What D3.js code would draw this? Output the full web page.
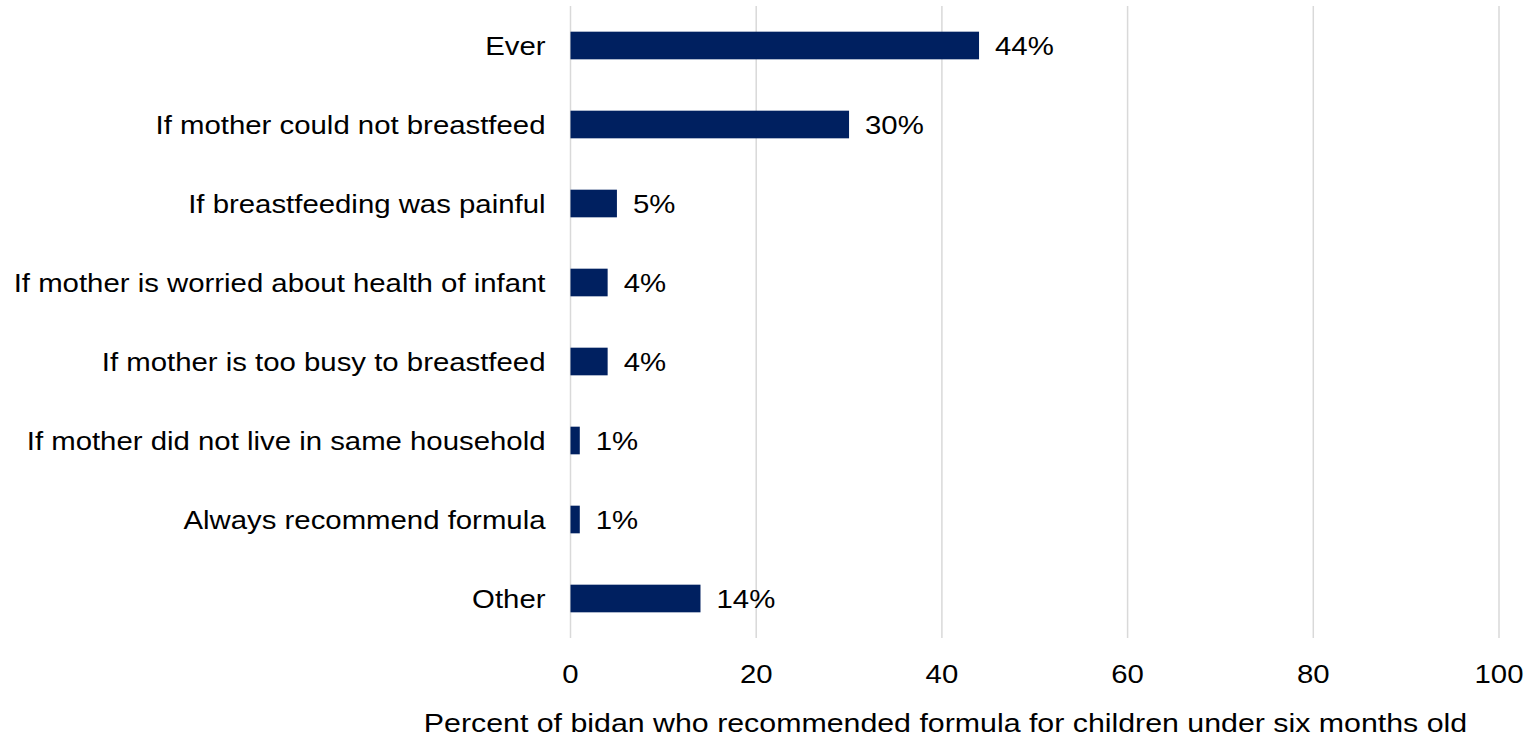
<!DOCTYPE html>
<html>
<head>
<meta charset="utf-8">
<script src="https://cdn.jsdelivr.net/npm/d3@7"></script>
<style>
  html, body { margin: 0; padding: 0; background: #ffffff; }
  svg { display: block; }
  text { font-family: "Liberation Sans", Arial, sans-serif; fill: #000000; }
</style>
</head>
<body>
<svg id="chart" width="1535" height="739"></svg>
<script>
// Reasons bidan gave for recommending formula
const categories = [
  "Ever",
  "If mother could not breastfeed",
  "If breastfeeding was painful",
  "If mother is worried about health of infant",
  "If mother is too busy to breastfeed",
  "If mother did not live in same household",
  "Always recommend formula",
  "Other"
];
const values = [44, 30, 5, 4, 4, 1, 1, 14];
const xTicks = [0, 20, 40, 60, 80, 100];
const axisTitle = "Percent of bidan who recommended formula for children under six months old";

const svg = d3.select("#chart");
const margin = { top: 6, left: 570.5, right: 36, bottom: 101 };
const W = 1535, H = 739;
const fontSize = 26.5;   // text size
const stretch = 1.108;   // horizontal widening of the lettering

const x = d3.scaleLinear().domain([0, 100]).range([margin.left, W - margin.right]);
const y = d3.scaleBand().domain(categories).range([margin.top, H - margin.bottom]).paddingInner(0.65).paddingOuter(0.325);

// places a widened text element at (px, py)
function label(sel, px, py) {
  return sel.attr("transform", (d, i) => `translate(${px(d, i)},${py(d, i)}) scale(${stretch},1)`)
    .attr("font-size", fontSize);
}

// vertical gridlines
svg.append("g")
  .selectAll("line")
  .data(xTicks)
  .join("line")
  .attr("x1", d => x(d)).attr("x2", d => x(d))
  .attr("y1", margin.top).attr("y2", H - margin.bottom)
  .attr("stroke", "#d9d9d9")
  .attr("stroke-width", 1.5);

// bars
const rows = categories.map((c, i) => ({ c, v: values[i] }));
svg.append("g")
  .selectAll("rect")
  .data(rows)
  .join("rect")
  .attr("x", x(0))
  .attr("y", d => y(d.c))
  .attr("width", d => x(d.v) - x(0))
  .attr("height", y.bandwidth())
  .attr("fill", "#002060");

// value labels
svg.append("g")
  .selectAll("text")
  .data(rows)
  .join("text")
  .call(label, d => x(d.v) + 16, d => y(d.c) + y.bandwidth() / 2)
  .attr("dy", "0.35em")
  .text(d => d.v + "%");

// category labels
svg.append("g")
  .selectAll("text")
  .data(categories)
  .join("text")
  .call(label, () => x(0) - 25, d => y(d) + y.bandwidth() / 2)
  .attr("dy", "0.35em")
  .attr("text-anchor", "end")
  .text(d => d);

// value axis tick labels
svg.append("g")
  .selectAll("text")
  .data(xTicks)
  .join("text")
  .call(label, d => x(d), () => 683)
  .attr("text-anchor", "middle")
  .text(d => d);

// axis title
svg.append("text")
  .attr("transform", `translate(945.5,732) scale(1.145,1)`)
  .attr("font-size", 26.5)
  .attr("text-anchor", "middle")
  .text(axisTitle);
</script>
</body>
</html>
